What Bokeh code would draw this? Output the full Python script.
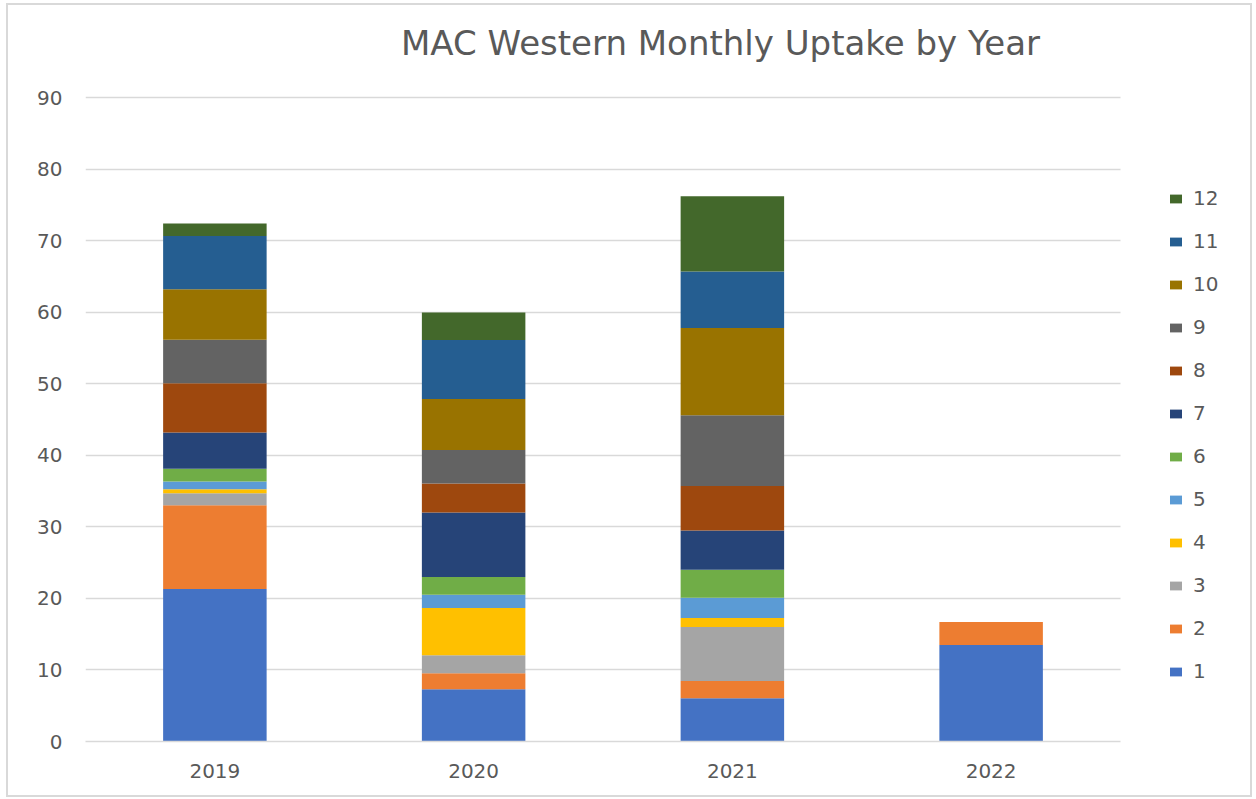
from bokeh.plotting import figure
from bokeh.models import Range1d, Legend, LegendItem, FixedTicker, Label, Grid
from bokeh.embed import file_html
from bokeh.resources import INLINE

years = ["2019", "2020", "2021", "2022"]
months = [str(i) for i in range(1, 13)]

m1 = [21.3, 7.3, 6.05, 13.5]
m2 = [11.7, 2.25, 2.4, 3.2]
m3 = [1.7, 2.5, 7.55, 0]
m4 = [0.55, 6.6, 1.25, 0]
m5 = [1.1, 1.85, 2.85, 0]
m6 = [1.75, 2.5, 3.9, 0]
m7 = [5.1, 9.0, 5.5, 0]
m8 = [6.85, 4.05, 6.2, 0]
m9 = [6.1, 4.7, 9.9, 0]
m10 = [7.05, 7.1, 12.2, 0]
m11 = [7.45, 8.25, 7.9, 0]
m12 = [1.75, 3.85, 10.5, 0]

y_ticks = list(range(0, 91, 10))

colors = ["#4472C4", "#ED7D31", "#A5A5A5", "#FFC000", "#5B9BD5", "#70AD47",
          "#264478", "#9E480E", "#636363", "#997300", "#255E91", "#43682B"]

series = [m1, m2, m3, m4, m5, m6, m7, m8, m9, m10, m11, m12]
xpos = [i + 0.5 for i in range(len(years))]
data = {"x": xpos}
for name, vals in zip(months, series):
    data[name] = vals

FONT = "DejaVu Sans"
TXT = "#595959"
PX_PER_CAT = 258.75
PX_PER_UNIT = 644 / 90.0
FRAME_W = 1165
FRAME_H = 736

p = figure(x_range=Range1d(0, FRAME_W / PX_PER_CAT),
           y_range=Range1d(0, FRAME_H / PX_PER_UNIT),
           frame_width=FRAME_W, frame_height=FRAME_H,
           output_backend="svg", toolbar_location=None,
           min_border_left=77, min_border_right=0, min_border_top=0,
           min_border_bottom=54)
p.styles = {"border": "2px solid #d9d9d9", "margin-left": "6px", "margin-top": "3px"}

renderers = p.vbar_stack(months, x="x", width=0.4, source=data, color=colors,
                         line_color=None)

title = Label(x=(720 - 85) / PX_PER_CAT, y=90 + 55 / PX_PER_UNIT,
              text="MAC Western Monthly Uptake by Year",
              text_align="center", text_baseline="middle",
              text_font=FONT, text_font_size="34px", text_color=TXT)
p.add_layout(title)

p.outline_line_color = None
p.xgrid.grid_line_color = None
if "cross_bounds" in Grid.properties():
    p.ygrid.grid_line_color = "#d9d9d9"
    p.ygrid.grid_line_width = 1.5
    p.ygrid.cross_bounds = (0, len(years))
else:
    p.ygrid.grid_line_color = None
    p.segment(x0=0, x1=len(years), y0=y_ticks, y1=y_ticks,
              line_color="#d9d9d9", line_width=1.5, level="underlay")

p.yaxis.ticker = FixedTicker(ticks=y_ticks)
p.yaxis.axis_line_color = None
p.yaxis.major_tick_line_color = None
p.yaxis.minor_tick_line_color = None
p.yaxis.major_tick_out = 0
p.yaxis.major_label_standoff = 23
p.yaxis.major_label_text_font = FONT
p.yaxis.major_label_text_font_size = "20px"
p.yaxis.major_label_text_color = TXT

p.xaxis.ticker = FixedTicker(ticks=xpos)
p.xaxis.major_label_overrides = {x: y for x, y in zip(xpos, years)}
p.xaxis.bounds = (0, len(years))
p.xaxis.axis_line_color = "#d9d9d9"
p.xaxis.axis_line_width = 1.5
p.xaxis.major_tick_line_color = None
p.xaxis.minor_tick_line_color = None
p.xaxis.major_tick_out = 0
p.xaxis.major_label_standoff = 22
p.xaxis.major_label_text_font = FONT
p.xaxis.major_label_text_font_size = "20px"
p.xaxis.major_label_text_color = TXT

items = [LegendItem(label=months[i], renderers=[renderers[i]]) for i in range(11, -1, -1)]
legend = Legend(items=items, location=(1083, 58), padding=0, margin=0,
                border_line_color=None, background_fill_alpha=0,
                glyph_width=15, glyph_height=11, label_height=21, spacing=19,
                label_standoff=10, label_text_font=FONT,
                label_text_font_size="20px", label_text_color=TXT)
p.add_layout(legend, "center")

open("out.html", "w").write(file_html(p, INLINE))
